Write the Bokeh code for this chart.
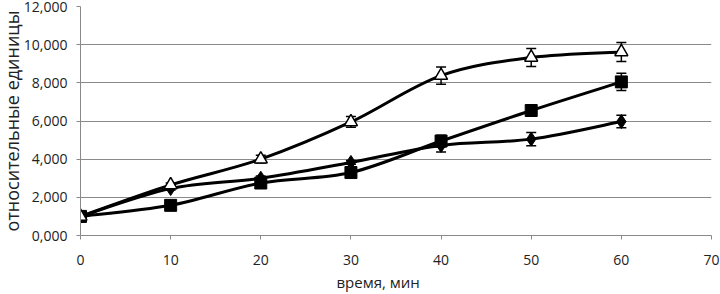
from bokeh.plotting import figure
from bokeh.models import ColumnDataSource, Whisker, TeeHead, FixedTicker, Range1d, Title
from bokeh.embed import file_html
from bokeh.resources import INLINE

# ---- data ----
time_min = [0, 10, 20, 30, 40, 50, 60]
triangle_vals = [1.0, 2.65, 4.0, 5.95, 8.38, 9.33, 9.62]
triangle_err = [0.05, 0.1, 0.2, 0.28, 0.45, 0.47, 0.5]
square_vals = [1.0, 1.58, 2.75, 3.3, 4.95, 6.55, 8.05]
square_err = [0.05, 0.08, 0.12, 0.1, 0.3, 0.25, 0.45]
diamond_vals = [1.0, 2.46, 3.0, 3.83, 4.72, 5.05, 5.97]
diamond_err = [0.05, 0.08, 0.12, 0.1, 0.35, 0.35, 0.33]

y_ticks = [0, 2, 4, 6, 8, 10, 12]
y_tick_labels = ["0,000", "2,000", "4,000", "6,000", "8,000", "10,000", "12,000"]
x_ticks = [0, 10, 20, 30, 40, 50, 60, 70]
x_title = "время, мин"
y_title = "относительные единицы"

FONT = "Open Sans"
GRID = "#8a8a8a"
TXT = "#222222"

p = figure(width=720, height=294, output_backend="svg", toolbar_location=None,
           x_range=Range1d(0, 70), y_range=Range1d(0, 12),
           min_border_left=80, min_border_right=9, min_border_top=6, min_border_bottom=59)
p.outline_line_color = None
p.background_fill_color = "white"
p.border_fill_color = "white"

p.xgrid.grid_line_color = None
p.ygrid.grid_line_color = GRID
p.ygrid.grid_line_width = 1

for ax in (p.xaxis[0], p.yaxis[0]):
    ax.axis_line_color = GRID
    ax.major_tick_line_color = GRID
    ax.major_tick_in = 0
    ax.major_tick_out = 4
    ax.minor_tick_line_color = None
    ax.major_label_text_font = FONT
    ax.major_label_text_font_size = "14px"
    ax.major_label_text_color = TXT

p.xaxis.ticker = FixedTicker(ticks=x_ticks)
p.yaxis.ticker = FixedTicker(ticks=y_ticks)
p.yaxis.major_label_overrides = {t: l for t, l in zip(y_ticks, y_tick_labels)}
p.xaxis.major_label_standoff = 15
p.yaxis.major_label_standoff = 9

p.add_layout(Title(text=y_title, align="center", standoff=-7, text_font=FONT,
                   text_font_size="18px", text_font_style="normal", text_color=TXT), "left")
p.add_layout(Title(text=x_title, align="left", offset=256, standoff=4, text_font=FONT,
                   text_font_size="15px", text_font_style="normal", text_color=TXT), "below")


def smooth(xs, ys):
    n = len(xs)
    d = dict(x0=[], y0=[], x1=[], y1=[], cx0=[], cy0=[], cx1=[], cy1=[])
    for i in range(n - 1):
        a = max(i - 1, 0)
        b = min(i + 2, n - 1)
        d["x0"].append(xs[i]); d["y0"].append(ys[i])
        d["x1"].append(xs[i + 1]); d["y1"].append(ys[i + 1])
        d["cx0"].append(xs[i] + (xs[i + 1] - xs[a]) / 6)
        d["cy0"].append(ys[i] + (ys[i + 1] - ys[a]) / 6)
        d["cx1"].append(xs[i + 1] - (xs[b] - xs[i]) / 6)
        d["cy1"].append(ys[i + 1] - (ys[b] - ys[i]) / 6)
    return ColumnDataSource(d)


series = [
    (diamond_vals, diamond_err, "diamond"),
    (square_vals, square_err, "square"),
    (triangle_vals, triangle_err, "triangle"),
]

for vals, err, mk in series:
    p.bezier(x0="x0", y0="y0", x1="x1", y1="y1", cx0="cx0", cy0="cy0", cx1="cx1", cy1="cy1",
             source=smooth(time_min, vals), line_color="black", line_width=3)

for vals, err, mk in series:
    src = ColumnDataSource(dict(x=time_min, y=vals,
                                lo=[v - e for v, e in zip(vals, err)],
                                hi=[v + e for v, e in zip(vals, err)]))
    if mk == "diamond":
        p.scatter("x", "y", source=src, marker="diamond", size=14, fill_color="black", line_color="black")
    elif mk == "square":
        p.scatter("x", "y", source=src, marker="square", size=12, fill_color="black", line_color="black")
    else:
        p.scatter("x", "y", source=src, marker="triangle", size=13, fill_color="white",
                  line_color="black", line_width=1.5)
    w = Whisker(source=src, base="x", lower="lo", upper="hi", line_color="black", line_width=1.5,
                upper_head=TeeHead(size=10, line_color="black", line_width=1.5),
                lower_head=TeeHead(size=10, line_color="black", line_width=1.5))
    p.add_layout(w)

open("out.html", "w").write(file_html(p, INLINE))
